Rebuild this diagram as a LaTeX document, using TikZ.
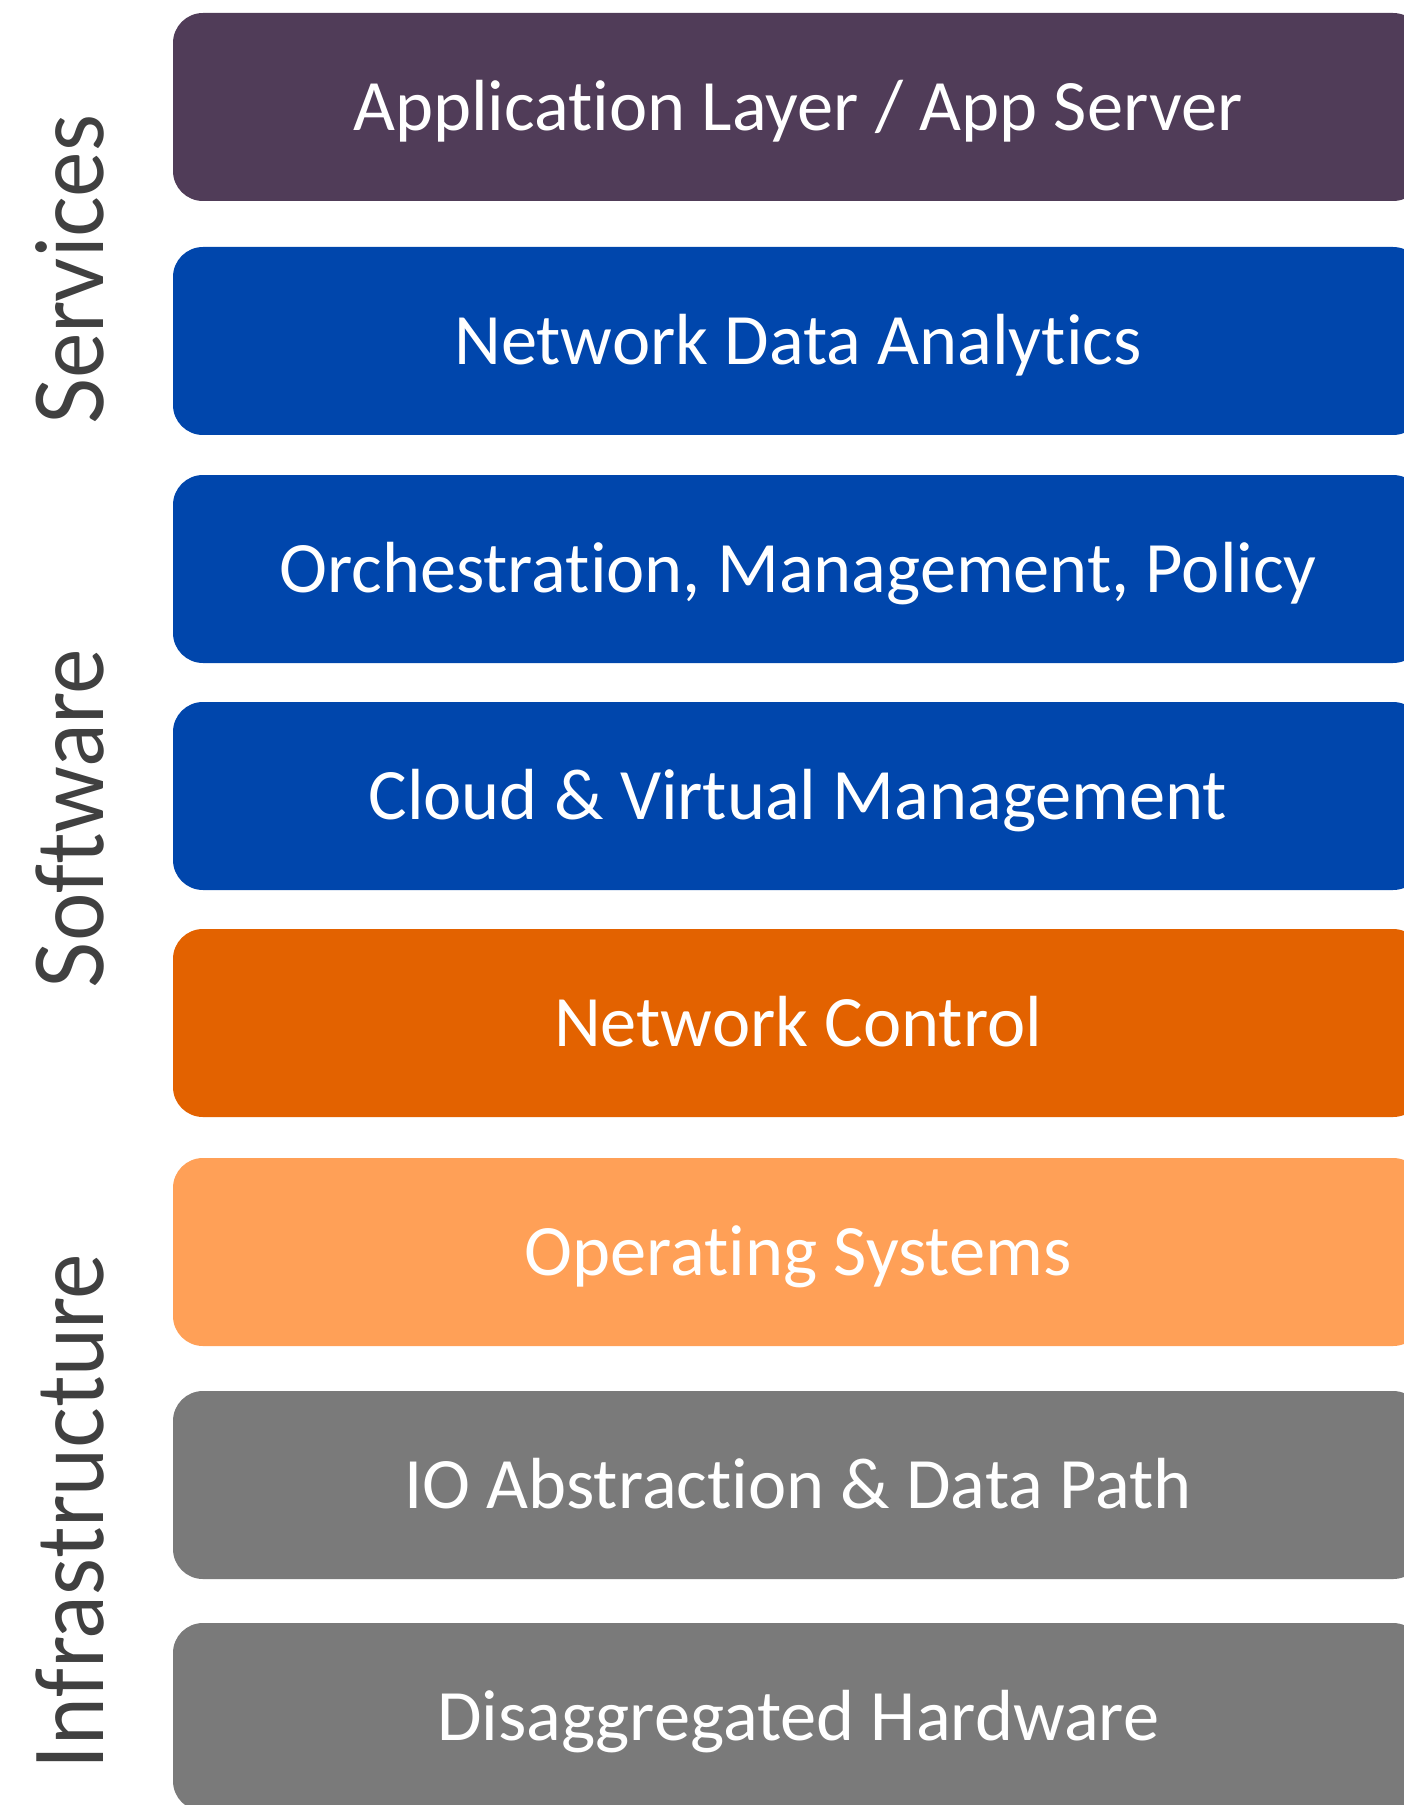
\documentclass[tikz,border=0pt]{standalone}
\usepackage{fontspec}
\setmainfont{Carlito}[Ligatures=NoCommon]
\newfontfamily\sidefont{Lato}[FakeStretch=0.92, Ligatures=NoCommon]
\usepackage{tikz}
\usetikzlibrary{positioning}

\definecolor{appPurple}{RGB}{80,60,88}
\definecolor{netBlue}{RGB}{0,70,172}
\definecolor{ctrlOrange}{RGB}{227,98,0}
\definecolor{osOrange}{RGB}{255,160,87}
\definecolor{hwGray}{RGB}{122,122,122}
\definecolor{labelGray}{RGB}{64,64,64}

\begin{document}
\begin{tikzpicture}[
  layer/.style={rounded corners=0.3cm, minimum width=12.5cm, minimum height=1.88cm, inner sep=0pt, outer sep=0pt, text=white, text height=13.3pt, text depth=0pt, font=\fontsize{20.6}{25}\selectfont},
  side/.style={text=labelGray, rotate=90, anchor=base, inner sep=0pt, font=\sidefont\fontsize{26.5}{32}\selectfont}
]
\useasboundingbox (0,0) rectangle (14.04,-18.05);

% LAYERS
\node[layer, fill=appPurple] (app) at (7.98,-1.07) {Application Layer / App Server};
\node[layer, fill=netBlue, below=0.46cm of app] (analytics) {Network Data Analytics};
\node[layer, fill=netBlue, below=0.40cm of analytics] (orch) {Orchestration, Management, Policy};
\node[layer, fill=netBlue, below=0.39cm of orch] (cloud) {Cloud \& Virtual Management};
\node[layer, fill=ctrlOrange, below=0.39cm of cloud] (control) {Network Control};
\node[layer, fill=osOrange, below=0.41cm of control] (os) {Operating Systems};
\node[layer, fill=hwGray, below=0.45cm of os] (io) {IO Abstraction \& Data Path};
\node[layer, fill=hwGray, below=0.44cm of io] (hw) {Disaggregated Hardware};

% SIDE LABELS
\node[side] (services) at (1.03,-2.70) {Services};
\node[side] (software) at (1.03,-8.19) {Software};
\node[side] (infra) at (1.03,-15.12) {Infrastructure};

\end{tikzpicture}
\end{document}
